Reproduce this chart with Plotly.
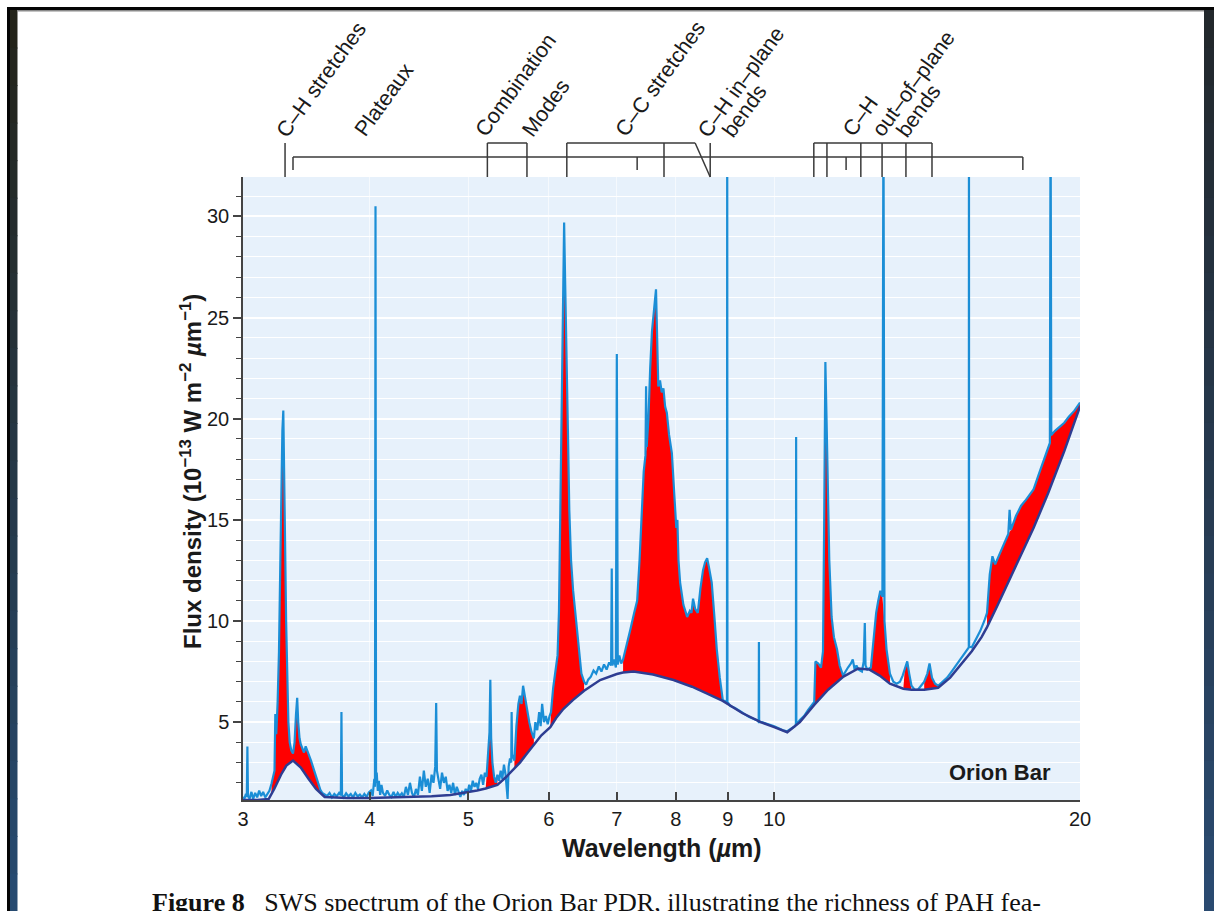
import math
import plotly.graph_objects as go

# ---------------- data ----------------
spec_wave = [
    3.000, 3.010, 3.020, 3.026, 3.030, 3.034, 3.045, 3.058, 3.070, 3.084, 3.098, 3.112, 3.126, 3.140,
    3.155, 3.170, 3.185, 3.200, 3.212, 3.222, 3.228, 3.235, 3.245, 3.255, 3.265, 3.272, 3.280, 3.287,
    3.293, 3.300, 3.308, 3.316, 3.325, 3.335, 3.347, 3.360, 3.372, 3.383, 3.392, 3.400, 3.410, 3.420,
    3.432, 3.445, 3.458, 3.470, 3.485, 3.500, 3.515, 3.530, 3.545, 3.560, 3.575, 3.590, 3.610,
    3.630, 3.650, 3.670, 3.690, 3.710, 3.730, 3.745, 3.750, 3.755, 3.770, 3.790, 3.810, 3.830, 3.850,
    3.870, 3.890, 3.910, 3.930, 3.950, 3.970, 3.990, 4.010, 4.025, 4.040, 4.046, 4.051, 4.056, 4.062,
    4.072, 4.082, 4.094, 4.106, 4.120, 4.140, 4.160, 4.180, 4.200, 4.220, 4.240, 4.260, 4.280, 4.300,
    4.320, 4.340, 4.360, 4.380, 4.400, 4.420, 4.440, 4.460, 4.480, 4.500, 4.520, 4.540, 4.560, 4.580,
    4.600, 4.620, 4.638, 4.648, 4.656, 4.670, 4.690, 4.710, 4.730, 4.750, 4.770, 4.790, 4.810, 4.830,
    4.850, 4.870, 4.890, 4.910, 4.930, 4.950, 4.970, 4.990,
    5.010, 5.030, 5.050, 5.070, 5.090, 5.110, 5.130, 5.150, 5.170, 5.190, 5.210, 5.230, 5.245, 5.255,
    5.265, 5.280, 5.300, 5.320, 5.340, 5.360, 5.380, 5.400, 5.420, 5.440, 5.455, 5.465, 5.478, 5.495,
    5.510, 5.515, 5.522, 5.535, 5.550, 5.575, 5.600, 5.620, 5.640, 5.660, 5.685, 5.710, 5.740, 5.770,
    5.800, 5.820, 5.845, 5.870, 5.890, 5.910, 5.935, 5.960, 5.985, 6.010,
    6.030, 6.060, 6.090, 6.120, 6.140, 6.160, 6.180, 6.200, 6.212, 6.225, 6.245, 6.265, 6.285, 6.310,
    6.340, 6.370, 6.400, 6.430, 6.460, 6.500, 6.530, 6.560, 6.600, 6.640, 6.680, 6.720, 6.760, 6.800,
    6.840, 6.880, 6.910, 6.920, 6.930, 6.955, 6.985, 7.000, 7.015, 7.040, 7.070,
    7.100, 7.160, 7.220, 7.280, 7.330, 7.370, 7.410, 7.440, 7.470, 7.480, 7.490, 7.520, 7.550, 7.580,
    7.620, 7.650, 7.670, 7.690, 7.720, 7.750, 7.780, 7.810, 7.840, 7.880, 7.930, 7.970, 8.010, 8.030,
    8.050, 8.080, 8.140, 8.210, 8.260, 8.290, 8.320, 8.360, 8.410, 8.460, 8.510, 8.550, 8.590, 8.630,
    8.680, 8.730, 8.780, 8.840, 8.900,
    8.960, 8.985, 8.990, 8.995, 9.050, 9.150, 9.250, 9.350, 9.450, 9.550, 9.620, 9.655, 9.660, 9.665,
    9.720, 9.800, 9.900, 10.00, 10.10, 10.20, 10.30, 10.40, 10.48, 10.505, 10.51, 10.515, 10.60, 10.70,
    10.80, 10.90, 10.95, 10.98, 11.05, 11.12, 11.17, 11.20, 11.23, 11.26, 11.29, 11.33, 11.39, 11.45,
    11.53, 11.60, 11.69, 11.75, 11.82, 11.90, 11.95, 12.00, 12.05, 12.10, 12.20, 12.25, 12.28, 12.30,
    12.35, 12.45, 12.50, 12.55, 12.60, 12.66, 12.72, 12.78, 12.81, 12.84, 12.90, 13.00, 13.10, 13.20,
    13.30, 13.38, 13.45, 13.52, 13.58, 13.65, 13.75, 13.85, 13.95, 14.05, 14.15, 14.22, 14.30, 14.40,
    14.50, 14.65, 14.80, 14.95, 15.10, 15.25, 15.40, 15.50, 15.545, 15.55, 15.555, 15.65, 15.80, 15.95,
    16.10, 16.20, 16.30, 16.40, 16.50, 16.60, 16.75, 16.90, 17.00, 17.05, 17.10, 17.30, 17.50, 17.70,
    17.90, 18.00, 18.20, 18.40, 18.60, 18.68, 18.71, 18.74, 18.90, 19.10, 19.30, 19.50, 19.75, 20.00,
]
spec_flux = [
    1.30, 1.22, 1.45, 1.30, 3.80, 1.35, 1.22, 1.55, 1.20, 1.50, 1.28, 1.62, 1.34, 1.55,
    1.28, 1.42, 1.60, 1.95, 2.40, 2.60, 5.40, 4.40, 6.00, 8.50, 13.0, 17.0, 19.4, 20.4,
    18.3, 14.0, 10.0, 7.00, 5.00, 4.00, 3.60, 3.45, 4.00, 5.40, 6.20, 5.00, 4.20, 3.90,
    3.70, 3.50, 3.80, 3.60, 3.40, 3.10, 2.80, 2.50, 2.20, 1.90, 1.65, 1.50, 1.42,
    1.35, 1.50, 1.28, 1.45, 1.33, 1.50, 1.38, 5.50, 1.40, 1.28, 1.48, 1.33, 1.45, 1.28,
    1.50, 1.33, 1.42, 1.28, 1.45, 1.30, 1.52, 1.62, 1.35, 2.20, 1.80, 30.5, 2.00, 2.50,
    1.60, 2.10, 1.40, 1.90, 1.50, 1.35, 1.62, 1.40, 1.30, 1.55, 1.30, 1.50, 1.35, 1.48,
    1.30, 1.80, 1.40, 2.00, 1.50, 1.28, 1.70, 1.40, 2.30, 1.60, 2.60, 1.80, 2.20, 1.50,
    2.40, 2.00, 2.80, 5.95, 2.60, 2.20, 1.70, 2.50, 2.00, 2.30, 1.60, 1.90, 1.50, 2.00,
    1.40, 1.80, 1.50, 1.30, 1.60, 1.40, 1.70, 1.50,
    1.90, 1.60, 2.10, 1.80, 2.00, 1.70, 2.20, 2.40, 1.90, 2.50, 2.30, 3.50, 4.50, 7.10,
    4.20, 3.00, 2.30, 2.00, 2.40, 2.10, 2.60, 2.20, 2.90, 2.40, 1.60, 1.20, 2.80, 3.20,
    3.00, 5.50, 3.40, 3.20, 3.10, 4.80, 5.90, 6.30, 5.90, 6.80, 6.20, 5.60, 5.00, 4.50,
    4.20, 5.00, 4.60, 5.50, 4.80, 5.90, 5.00, 5.30, 4.90, 5.30,
    5.50, 6.70, 7.40, 8.30, 10.5, 16.0, 22.5, 27.5, 29.7, 27.0, 24.0, 19.5, 15.5, 13.0,
    11.5, 10.5, 9.40, 8.30, 7.40, 7.00, 6.85, 7.10, 7.25, 7.55, 7.40, 7.75, 7.50, 7.85,
    7.60, 7.95, 7.80, 12.6, 7.80, 8.10, 7.70, 23.2, 7.85, 8.30, 7.90,
    8.10, 8.80, 9.60, 10.4, 11.0, 13.0, 15.8, 17.4, 18.2, 21.6, 18.6, 20.0, 22.5, 24.3,
    25.5, 26.4, 24.0, 21.6, 21.9, 21.3, 21.5, 20.6, 20.3, 19.2, 18.3, 16.5, 14.6, 15.0,
    13.0, 11.9, 10.8, 10.2, 10.5, 10.4, 11.1, 10.6, 10.4, 11.6, 12.5, 12.9, 13.1, 12.6,
    11.9, 10.3, 8.60, 7.20, 6.10,
    6.00, 6.10, 36.0, 6.00, 5.80, 5.70, 5.55, 5.40, 5.25, 5.15, 5.10, 5.00, 8.96, 5.00,
    5.00, 4.95, 4.85, 4.80, 4.70, 4.60, 4.55, 4.70, 4.80, 4.90, 19.1, 4.90, 5.10, 5.30,
    5.60, 5.90, 6.00, 8.00, 7.90, 7.70, 8.50, 15.0, 22.8, 20.0, 16.8, 13.0, 10.2, 9.20,
    8.60, 7.80, 7.30, 7.50, 7.70, 7.90, 8.10, 7.60, 7.80, 7.60, 7.50, 8.00, 9.90, 7.80,
    7.60, 7.70, 8.50, 9.50, 10.4, 11.0, 11.5, 11.2, 36.0, 10.0, 8.60, 7.40, 7.00, 6.90,
    7.00, 7.30, 7.70, 8.00, 7.40, 6.80, 6.60, 6.60, 6.80, 7.00, 7.40, 7.90, 7.20, 6.90,
    6.80, 7.00, 7.20, 7.50, 7.80, 8.10, 8.40, 8.60, 8.70, 36.0, 8.75, 8.70, 9.10, 9.50,
    10.0, 10.4, 12.3, 13.2, 12.8, 13.1, 13.5, 14.0, 14.3, 15.5, 14.5, 15.2, 15.7, 16.0,
    16.3, 16.5, 17.2, 17.9, 18.6, 18.8, 36.0, 19.2, 19.4, 19.6, 19.8, 20.1, 20.4, 20.8,
]

cont_wave = [
    3.00, 3.10, 3.18, 3.20, 3.22, 3.27, 3.31, 3.36, 3.42, 3.48, 3.54, 3.61, 3.80, 4.00, 4.30, 4.60,
    4.80, 4.95, 5.10, 5.20, 5.34, 5.45, 5.55, 5.62, 5.70, 5.80, 5.90, 6.02, 6.10, 6.20, 6.34, 6.50,
    6.74, 7.00, 7.10, 7.27, 7.60, 7.96, 8.30, 8.58, 8.90, 9.30, 9.70, 10.00, 10.30, 10.60, 10.95,
    11.30, 11.60, 11.70, 12.10, 12.40, 12.70, 13.00, 13.40, 13.65, 14.05, 14.50, 14.90, 15.30, 15.65,
    16.00, 16.20, 16.60, 17.30, 18.00, 18.60, 19.30, 20.00,
]
cont_flux = [
    1.15, 1.15, 1.20, 1.45, 1.70, 2.40, 2.85, 3.10, 2.75, 2.20, 1.70, 1.30, 1.25, 1.25, 1.28, 1.33,
    1.40, 1.50, 1.62, 1.72, 1.90, 2.30, 2.70, 3.00, 3.40, 3.90, 4.35, 4.75, 5.20, 5.65, 6.10, 6.55,
    7.08, 7.38, 7.45, 7.50, 7.35, 7.08, 6.75, 6.42, 6.05, 5.45, 5.00, 4.75, 4.50, 5.00, 5.85,
    6.60, 7.10, 7.25, 7.65, 7.60, 7.30, 6.90, 6.65, 6.60, 6.60, 6.70, 7.20, 7.90, 8.50,
    9.20, 9.70, 10.80, 12.70, 14.60, 16.30, 18.40, 20.60,
]

# unresolved atomic / H2 lines (kept out of the red PAH fill)
line_centers = [3.030, 3.750, 4.051, 4.648, 5.255, 5.515, 6.920, 7.000, 7.480, 8.990, 9.660,
                10.51, 12.28, 12.81, 15.55, 17.05, 18.71]

# PAH feature ranges filled in red (micron)
feature_ranges = [(3.20, 3.61), (5.20, 5.34), (5.55, 5.80), (6.02, 6.50), (7.10, 8.90),
                  (10.95, 11.70), (12.40, 13.00), (13.40, 13.65), (14.05, 14.50), (16.20, 20.00)]

x_ticks = [3, 4, 5, 6, 7, 8, 9, 10, 20]
x_ticktext = ["3", "4", "5", "6", "7", "8", "9", "10", "20"]

# band-assignment labels: text, left px, bottom px
band_labels = [
    ("C–H stretches", 270, 143),
    ("Plateaux", 348, 142),
    ("Combination", 469, 142),
    ("Modes", 516, 143),
    ("C–C stretches", 609, 142),
    ("C–H in–plane", 692, 143),
    ("bends", 716, 143),
    ("C–H", 837, 142),
    ("out–of–plane", 866, 143),
    ("bends", 890, 143),
]

# bracket polylines: (wavelength, pixel row) vertices
bracket_lines = [
    [(3.30, 143), (3.30, 177)],
    [(3.36, 170), (3.36, 157), (17.57, 157), (17.57, 170)],
    [(5.22, 177), (5.22, 143), (5.71, 143), (5.71, 177)],
    [(6.25, 177), (6.25, 143), (8.36, 143), (8.65, 177)],
    [(7.79, 143), (7.79, 177)],
    [(8.65, 143), (8.65, 177)],
    [(7.33, 157), (7.33, 170)],
    [(10.94, 177), (10.94, 143), (14.30, 143), (14.30, 177)],
    [(11.27, 143), (11.27, 177)],
    [(12.17, 143), (12.17, 177)],
    [(12.77, 143), (12.77, 177)],
    [(13.48, 143), (13.48, 177)],
    [(11.77, 157), (11.77, 170)],
]

# ---------------- geometry helpers ----------------
W, H = 1214, 911
ML, MR, MT, MB = 243, 134, 177, 111
PW, PH = W - ML - MR, H - MT - MB


def pxx(px):
    return (px - ML) / PW


def pyy(py):
    return (H - MB - py) / PH


SANS = "Liberation Sans, Arial, Helvetica, sans-serif"
SERIF = "Liberation Serif, Times New Roman, serif"

# ---------------- traces ----------------
def is_line(w):
    return any(abs(w - c) < 1e-9 for c in line_centers)


fill_x, fill_y = [], []
for lo, hi in feature_ranges:
    sx = [w for w, f in zip(spec_wave, spec_flux) if lo <= w <= hi and not is_line(w)]
    sy = [f for w, f in zip(spec_wave, spec_flux) if lo <= w <= hi and not is_line(w)]
    cx = [w for w in cont_wave if lo <= w <= hi]
    cy = [f for w, f in zip(cont_wave, cont_flux) if lo <= w <= hi]
    fill_x += sx + cx[::-1] + [None]
    fill_y += sy + cy[::-1] + [None]

fig = go.Figure()
fig.add_trace(go.Scatter(x=fill_x, y=fill_y, mode="lines", fill="toself",
                         fillcolor="#ff0000", line=dict(width=0, color="#ff0000"),
                         hoverinfo="skip", showlegend=False))
fig.add_trace(go.Scatter(x=spec_wave, y=spec_flux, mode="lines",
                         line=dict(color="#1b8ed6", width=2.2), showlegend=False))
fig.add_trace(go.Scatter(x=cont_wave, y=cont_flux, mode="lines",
                         line=dict(color="#2e3d92", width=2.5), showlegend=False))

# ---------------- shapes ----------------
shapes = []
for poly in bracket_lines:
    for (x0, r0), (x1, r1) in zip(poly[:-1], poly[1:]):
        shapes.append(dict(type="line", xref="x", yref="paper", x0=x0, x1=x1,
                           y0=pyy(r0), y1=pyy(r1), line=dict(color="#3a3a3a", width=1.5)))


def rect(x0, x1, y0, y1, color):
    shapes.append(dict(type="rect", xref="paper", yref="paper", x0=pxx(x0), x1=pxx(x1),
                       y0=pyy(y1), y1=pyy(y0), line=dict(width=0), fillcolor=color, layer="above"))


def lerp_color(c0, c1, t):
    return "rgb(%d,%d,%d)" % tuple(round(a + (b - a) * t) for a, b in zip(c0, c1))


n = 24
for i in range(n):
    y0 = 10 + (H - 10) * i / n
    y1 = 10 + (H - 10) * (i + 1) / n + 1
    t = i / (n - 1)
    rect(10, 17.5, y0, y1, lerp_color((36, 36, 26), (38, 74, 112), t))
    rect(1204, W + 2, y0, y1, lerp_color((34, 40, 44), (42, 74, 112), t))
rect(7, 10, 7, H + 2, "#050505")
rect(7, W + 2, 7, 10, "#050505")
rect(17, 1204, 10, 11.5, "#8a8a8a")

# ---------------- annotations ----------------
ann = []
for text, lx, by in band_labels:
    ann.append(dict(text=text, xref="paper", yref="paper", x=pxx(lx), y=pyy(by),
                    xanchor="left", yanchor="bottom", textangle=-54, showarrow=False,
                    borderpad=0, font=dict(family=SANS, size=21.5, color="#1a1a1a")))

ann.append(dict(text="<b>Wavelength (<i>µ</i>m)</b>", xref="paper", yref="paper",
                x=pxx(662), y=pyy(848), xanchor="center", yanchor="middle", showarrow=False,
                font=dict(family=SANS, size=25, color="#1a1a1a")))
ann.append(dict(text="<b>Flux density (10<sup>−13</sup> W m<sup>−2</sup> <i>µ</i>m<sup>−1</sup>)</b>",
                xref="paper", yref="paper", x=pxx(191), y=pyy(472), xanchor="center",
                yanchor="middle", textangle=-90, showarrow=False,
                font=dict(family=SANS, size=24, color="#1a1a1a")))
ann.append(dict(text="<b>Orion Bar</b>", xref="paper", yref="paper", x=pxx(1000), y=pyy(772),
                xanchor="center", yanchor="middle", showarrow=False,
                font=dict(family=SANS, size=22, color="#1a1a1a")))
ann.append(dict(text="<b>Figure 8</b>\u00a0\u00a0\u00a0SWS spectrum of the Orion Bar PDR, illustrating the richness of PAH fea-",
                xref="paper", yref="paper", x=pxx(150), y=pyy(886), xanchor="left", yanchor="top",
                showarrow=False, font=dict(family=SERIF, size=26, color="#111111")))

fig.update_layout(
    width=W, height=H,
    margin=dict(l=ML, r=MR, t=MT, b=MB),
    paper_bgcolor="white", plot_bgcolor="#e7f1fb",
    showlegend=False,
    shapes=shapes, annotations=ann,
    font=dict(family=SANS, color="#1a1a1a"),
)
fig.update_xaxes(type="log", range=[math.log10(3), math.log10(20)],
                 tickvals=x_ticks, ticktext=x_ticktext, ticks="inside", ticklen=8,
                 tickwidth=1.5, tickcolor="#444", showline=True, linecolor="#444", linewidth=1.5,
                 showgrid=True, gridcolor="rgba(255,255,255,0.6)", gridwidth=1.2, zeroline=False,
                 tickfont=dict(family=SANS, size=20, color="#1a1a1a"))
fig.update_yaxes(range=[1.15, 31.95], tick0=0, dtick=5, ticks="outside", ticklen=8, tickwidth=1.5,
                 tickcolor="#444", showline=True, linecolor="#444", linewidth=1.5,
                 showgrid=True, gridcolor="white", gridwidth=1.5, zeroline=False,
                 tickfont=dict(family=SANS, size=20, color="#1a1a1a"),
                 minor=dict(dtick=1, tick0=0, ticks="outside", ticklen=5, tickwidth=1.2,
                            tickcolor="#444", showgrid=True, gridcolor="white", gridwidth=1.2))

fig.write_html("out.html")
